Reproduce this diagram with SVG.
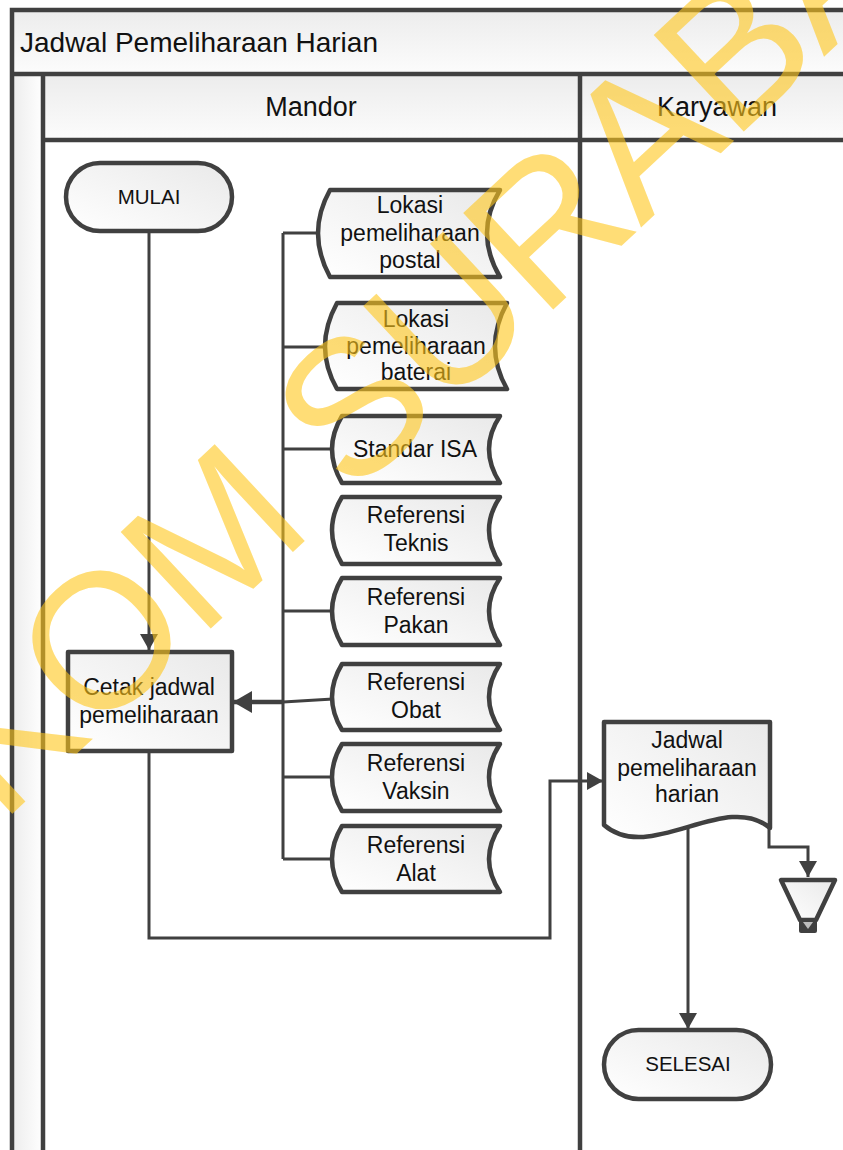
<svg xmlns="http://www.w3.org/2000/svg" width="843" height="1150" viewBox="0 0 843 1150">
  <style>
    .frame { fill: none; stroke: #404040; stroke-width: 4.5; }
    .shape { fill: url(#nodeFill); stroke: #404040; stroke-width: 4.5; stroke-linejoin: round; }
    .wire { fill: none; stroke: #404040; stroke-width: 3; }
    .label { font-family: "Liberation Sans", Arial, sans-serif; fill: #111; text-anchor: middle; }
    .node { font-size: 23px; }
    .term { font-size: 20.5px; }
    .lane { font-size: 27px; }
    .title { font-size: 28px; text-anchor: start; }
  </style>
  <defs>
    <linearGradient id="nodeFill" x1="0" y1="1" x2="1" y2="0">
      <stop offset="0" stop-color="#ffffff"/>
      <stop offset="1" stop-color="#e9e9e9"/>
    </linearGradient>
    <linearGradient id="headFill" x1="0" y1="0" x2="0" y2="1">
      <stop offset="0" stop-color="#ececec"/>
      <stop offset="1" stop-color="#fcfcfc"/>
    </linearGradient>
    <linearGradient id="stripFill" x1="0" y1="0" x2="1" y2="0">
      <stop offset="0" stop-color="#ececec"/>
      <stop offset="1" stop-color="#ffffff"/>
    </linearGradient>
    <marker id="arrow" markerUnits="userSpaceOnUse" markerWidth="16" markerHeight="18" refX="16" refY="9" orient="auto">
      <path d="M0,0 L16,9 L0,18 Z" fill="#404040"/>
    </marker>
    <marker id="arrowBig" markerUnits="userSpaceOnUse" markerWidth="19" markerHeight="22" refX="19" refY="11" orient="auto">
      <path d="M0,0 L19,11 L0,22 Z" fill="#404040"/>
    </marker>
  </defs>

  <rect width="843" height="1150" fill="#ffffff"/>

  <!-- pool and swimlanes -->
  <g id="pool">
    <rect x="12" y="10" width="840" height="64" fill="url(#headFill)"/>
    <rect x="43" y="74" width="810" height="66" fill="url(#headFill)"/>
    <rect x="12" y="74" width="31" height="1080" fill="url(#stripFill)"/>
    <path class="frame" d="M12,1152 V10 H850 M12,74 H850 M43,74 V1152 M43,140 H850 M580,74 V1152"/>
    <text class="label title" x="20" y="52">Jadwal Pemeliharaan Harian</text>
    <text class="label lane" x="311" y="116">Mandor</text>
    <text class="label lane" x="717" y="116">Karyawan</text>
  </g>

  <!-- connectors -->
  <g id="connectors">
    <path class="wire" d="M149,232 V650" marker-end="url(#arrow)"/>
    <path class="wire" d="M283,233 V859 M283,233 H320 M283,347 H326 M283,449 H333 M283,611 H333 M283,777 H333 M283,859 H333"/>
    <path class="wire" d="M333,699 L283,702"/>
    <path class="wire" style="stroke-width:4.5" d="M284,702 H233" marker-end="url(#arrowBig)"/>
    <path class="wire" d="M149,752 V938 H550 V781 H603" marker-end="url(#arrow)"/>
    <path class="wire" d="M769,827 V847 H808 V877" marker-end="url(#arrow)"/>
    <path class="wire" d="M688,828 V1029" marker-end="url(#arrow)"/>
  </g>

  <g id="mulai">
    <rect class="shape" x="66" y="163" width="166" height="68" rx="34"/>
    <text class="label term" x="149" y="203.5">MULAI</text>
  </g>

  <g id="cetak-jadwal">
    <rect class="shape" x="68" y="652" width="164" height="99"/>
    <text class="label node" x="149" y="695">Cetak jadwal</text>
    <text class="label node" x="149" y="723">pemeliharaan</text>
  </g>

  <g id="lokasi-postal">
    <path class="shape" d="M330,190 H500 Q474,233 500,277 H330 Q306,233 330,190 Z"/>
    <text class="label node" x="410" y="213">Lokasi</text>
    <text class="label node" x="410" y="241">pemeliharaan</text>
    <text class="label node" x="410" y="268">postal</text>
  </g>

  <g id="lokasi-baterai">
    <path class="shape" d="M337,303 H507 Q483,347 507,389 H337 Q313,347 337,303 Z"/>
    <text class="label node" x="416" y="327">Lokasi</text>
    <text class="label node" x="416" y="354">pemeliharaan</text>
    <text class="label node" x="416" y="380">baterai</text>
  </g>

  <g id="standar-isa">
    <path class="shape" d="M342,416 H500 Q478,449 500,483 H342 Q322,449 342,416 Z"/>
    <text class="label node" x="415" y="457">Standar ISA</text>
  </g>

  <g id="referensi-teknis">
    <path class="shape" d="M342,497 H500 Q478,530 500,564 H342 Q322,530 342,497 Z"/>
    <text class="label node" x="416" y="523">Referensi</text>
    <text class="label node" x="416" y="551">Teknis</text>
  </g>

  <g id="referensi-pakan">
    <path class="shape" d="M342,578 H500 Q478,611 500,645 H342 Q322,611 342,578 Z"/>
    <text class="label node" x="416" y="605">Referensi</text>
    <text class="label node" x="416" y="633">Pakan</text>
  </g>

  <g id="referensi-obat">
    <path class="shape" d="M342,664 H500 Q478,697 500,730 H342 Q322,697 342,664 Z"/>
    <text class="label node" x="416" y="690">Referensi</text>
    <text class="label node" x="416" y="718">Obat</text>
  </g>

  <g id="referensi-vaksin">
    <path class="shape" d="M342,744 H500 Q478,777 500,811 H342 Q322,777 342,744 Z"/>
    <text class="label node" x="416" y="771">Referensi</text>
    <text class="label node" x="416" y="799">Vaksin</text>
  </g>

  <g id="referensi-alat">
    <path class="shape" d="M342,826 H500 Q478,859 500,892 H342 Q322,859 342,826 Z"/>
    <text class="label node" x="416" y="853">Referensi</text>
    <text class="label node" x="416" y="881">Alat</text>
  </g>

  <g id="jadwal-harian">
    <path class="shape" d="M604,722 H770 V828 C725,790 650,865 604,825 Z"/>
    <text class="label node" x="687" y="748">Jadwal</text>
    <text class="label node" x="687" y="776">pemeliharaan</text>
    <text class="label node" x="687" y="802">harian</text>
  </g>

  <g id="arsip">
    <path class="shape" d="M781,880 H835 L816,920 H800 Z"/>
    <rect x="799" y="919" width="18" height="14" rx="2" fill="#404040"/>
    <path d="M803,922 H813 L808,929 Z" fill="#bdbdbd"/>
  </g>

  <g id="selesai">
    <rect class="shape" x="604" y="1030" width="167" height="69" rx="34.5"/>
    <text class="label term" x="688" y="1071">SELESAI</text>
  </g>

  <!-- watermark -->
  <text x="-211" y="1022" transform="rotate(-43 -211 1022)" font-family="Liberation Sans, Arial, sans-serif" font-size="192" letter-spacing="-3" fill="#FFC61A" fill-opacity="0.6">STIKOM SURABAYA</text>
</svg>
